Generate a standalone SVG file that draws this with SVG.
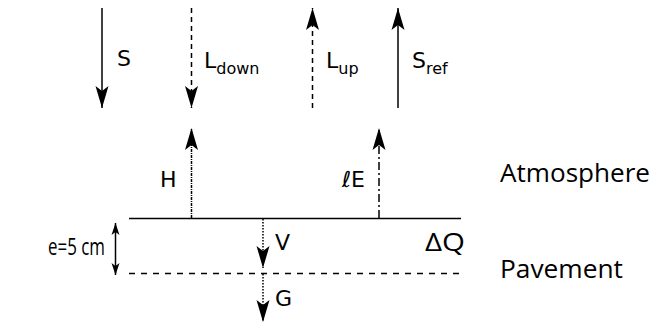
<svg xmlns="http://www.w3.org/2000/svg" width="654" height="325" viewBox="0 0 654 325">
<style>
.ln{stroke:#000;stroke-width:1.5;fill:none}
.lbl{font-family:"DejaVu Sans",sans-serif;font-size:22px;fill:#000}
.sub{font-size:16px}
.cal{font-family:"Open Sans","Liberation Sans",sans-serif;font-size:25px;fill:#000}
</style>
<defs>
<marker id="ah" markerUnits="userSpaceOnUse" markerWidth="24" markerHeight="16" viewBox="0 0 24 16" refX="23" refY="8" orient="auto-start-reverse">
<path d="M23,8 L1,1.5 L6,8 L1,14.5 Z" fill="#000"/>
</marker>
<marker id="ahs" markerUnits="userSpaceOnUse" markerWidth="14" markerHeight="10" viewBox="0 0 14 10" refX="13" refY="5" orient="auto-start-reverse">
<path d="M13,5 L1,1 L4,5 L1,9 Z" fill="#000"/>
</marker>
</defs>
<g id="connectors">
<line id="S-arrow" class="ln" x1="102" y1="8" x2="102" y2="108" marker-end="url(#ah)"/>
<line id="Ldown-arrow" class="ln" x1="191.5" y1="8" x2="191.5" y2="108" stroke-dasharray="5,4" marker-end="url(#ah)"/>
<line id="Lup-arrow" class="ln" x1="312.5" y1="108" x2="312.5" y2="8" stroke-dasharray="5,4" marker-end="url(#ah)"/>
<line id="Sref-arrow" class="ln" x1="398" y1="108" x2="398" y2="8" marker-end="url(#ah)"/>
<line id="H-arrow" class="ln" x1="191.5" y1="218" x2="191.5" y2="128" stroke-dasharray="3,1,1,1" marker-end="url(#ah)"/>
<line id="E-arrow" class="ln" x1="379" y1="218" x2="379" y2="128" stroke-dasharray="8,3,2,3" marker-end="url(#ah)"/>
<line id="V-arrow" class="ln" x1="263" y1="219" x2="263" y2="268" stroke-dasharray="1.5,1.5" marker-end="url(#ah)"/>
<line id="G-arrow" class="ln" x1="263" y1="274" x2="263" y2="322" stroke-dasharray="1.5,1.5" marker-end="url(#ah)"/>
<line id="e-arrow" class="ln" x1="115.5" y1="223" x2="115.5" y2="275" marker-start="url(#ahs)" marker-end="url(#ahs)"/>
</g>
<g id="surface">
<line class="ln" x1="129" y1="218.5" x2="461" y2="218.5"/>
</g>
<g id="pavement-bottom">
<line class="ln" x1="129" y1="273.5" x2="461" y2="273.5" stroke-dasharray="6,6"/>
</g>
<g id="labels">
<text class="lbl" x="117" y="66">S</text>
<text class="lbl" x="204" y="68">L<tspan class="sub" dy="6">down</tspan></text>
<text class="lbl" x="326" y="68">L<tspan class="sub" dy="6">up</tspan></text>
<text class="lbl" x="412" y="68">S<tspan class="sub" dy="6">ref</tspan></text>
<text class="lbl" x="160" y="187">H</text>
<text class="lbl" x="342" y="187">ℓE</text>
<text class="lbl" x="275" y="250">V</text>
<text class="lbl" x="275" y="306">G</text>
<text class="cal" x="48" y="255" style="font-size:23px" textLength="57" lengthAdjust="spacingAndGlyphs">e=5 cm</text>
<text class="cal" x="425" y="251" textLength="40" lengthAdjust="spacingAndGlyphs">ΔQ</text>
<text class="cal" x="500" y="182" textLength="150" lengthAdjust="spacingAndGlyphs">Atmosphere</text>
<text class="cal" x="500" y="278" textLength="123" lengthAdjust="spacingAndGlyphs">Pavement</text>
</g>
</svg>
